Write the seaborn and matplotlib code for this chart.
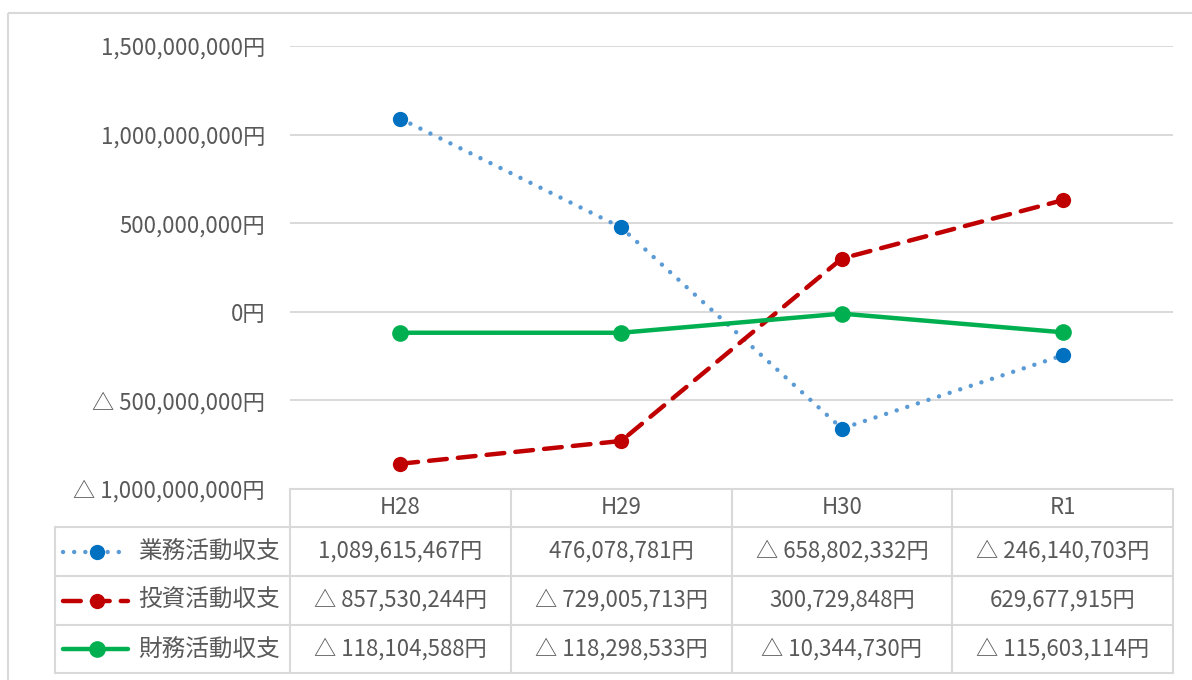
import numpy as np
import pandas as pd
import matplotlib
matplotlib.use("Agg")
import matplotlib.pyplot as plt
from matplotlib.lines import Line2D
from matplotlib.patches import Rectangle
import seaborn as sns

# --- data -------------------------------------------------------------
years = ["H28", "H29", "H30", "R1"]
series_names = ["業務活動収支", "投資活動収支", "財務活動収支"]
operating = [1089615467, 476078781, -658802332, -246140703]
investing = [-857530244, -729005713, 300729848, 629677915]
financing = [-118104588, -118298533, -10344730, -115603114]
y_ticks = [-1000000000, -500000000, 0, 500000000, 1000000000, 1500000000]

values = [operating, investing, financing]

# --- styles -----------------------------------------------------------
styles = [
    dict(color="#5B9BD5", mcolor="#0070C0", ls=(0, (0.01, 2.5)), ms=11),
    dict(color="#C00000", mcolor="#C00000", ls=(0, (4.0, 2.5)), ms=11),
    dict(color="#00B050", mcolor="#00B050", ls="-", ms=12),
]
GRID = "#D9D9D9"
TEXT = "#595959"
FS = 16
LW = 3.2

sns.set_style("white")
plt.rcParams["font.family"] = ["Noto Sans CJK JP", "DejaVu Sans"]

W, H = 1192, 680
fig = plt.figure(figsize=(W / 100, H / 100), dpi=100)

# pixel layout
px_left, px_right = 290, 1173
px_top, px_bottom = 46, 489
tbl_left = 55
row_edges = [489, 527, 576, 625, 673]

# overlay in pixel coordinates for border and data table
bg = fig.add_axes([0, 0, 1, 1])
bg.set_xlim(0, W)
bg.set_ylim(H, 0)
bg.axis("off")

ax = fig.add_axes([px_left / W, 1 - px_bottom / H,
                   (px_right - px_left) / W, (px_bottom - px_top) / H])

df = pd.DataFrame({
    "pos": np.tile(np.arange(len(years)), len(series_names)),
    "value": np.concatenate(values),
    "series": np.repeat(series_names, len(years)),
})

for name, st in zip(series_names, styles):
    sub = df[df["series"] == name]
    sns.lineplot(data=sub, x="pos", y="value", ax=ax, color=st["color"],
                 linestyle=st["ls"], linewidth=LW, marker="o",
                 markersize=st["ms"], markerfacecolor=st["mcolor"],
                 markeredgecolor=st["mcolor"], markeredgewidth=0,
                 dash_capstyle="round", solid_capstyle="round",
                 legend=False, zorder=3)

ax.set_xlim(-0.5, len(years) - 0.5)
ax.set_ylim(y_ticks[0], y_ticks[-1])
ax.set_yticks(y_ticks)


def yen(v):
    s = f"{abs(int(v)):,}円"
    return "△ " + s if v < 0 else s


ax.set_yticklabels([yen(v) for v in y_ticks], color=TEXT, fontsize=FS)
ax.tick_params(axis="y", length=0, pad=18)
ax.set_xticks([])
ax.set_xlabel("")
ax.set_ylabel("")
ax.grid(axis="y", color=GRID, linewidth=1.4)
ax.set_axisbelow(True)
for sp in ax.spines.values():
    sp.set_visible(False)
ax.patch.set_alpha(0)

# outer chart border
bg.add_patch(Rectangle((8, 13), W, H, fill=False, edgecolor=GRID,
                       linewidth=1.5))

# data table
col_w = (px_right - px_left) / len(years)
col_edges = [px_left + i * col_w for i in range(len(years) + 1)]
col_centers = [px_left + (i + 0.5) * col_w for i in range(len(years))]
lw_t = 1.5
for x in col_edges:
    bg.plot([x, x], [row_edges[0], row_edges[-1]], color=GRID, lw=lw_t)
bg.plot([tbl_left, tbl_left], [row_edges[1], row_edges[-1]], color=GRID, lw=lw_t)
bg.plot([px_left, px_right], [row_edges[0]] * 2, color=GRID, lw=lw_t)
for y in row_edges[1:]:
    bg.plot([tbl_left, px_right], [y, y], color=GRID, lw=lw_t)

hy = (row_edges[0] + row_edges[1]) / 2
for cx, yr in zip(col_centers, years):
    bg.text(cx, hy, yr, ha="center", va="center", color=TEXT, fontsize=FS)

for r, (name, vals, st) in enumerate(zip(series_names, values, styles)):
    cy = (row_edges[r + 1] + row_edges[r + 2]) / 2
    for cx, v in zip(col_centers, vals):
        bg.text(cx, cy, yen(v), ha="center", va="center", color=TEXT,
                fontsize=FS)
    bg.add_line(Line2D([63, 128], [cy, cy], color=st["color"],
                       linestyle=st["ls"], linewidth=LW,
                       dash_capstyle="round", solid_capstyle="round"))
    bg.add_line(Line2D([97], [cy], marker="o", markersize=st["ms"],
                       color=st["mcolor"], markeredgewidth=0, linestyle="none"))
    bg.text(138, cy, name, ha="left", va="center", color=TEXT, fontsize=FS + 1)

fig.savefig("out.png", dpi=100)
